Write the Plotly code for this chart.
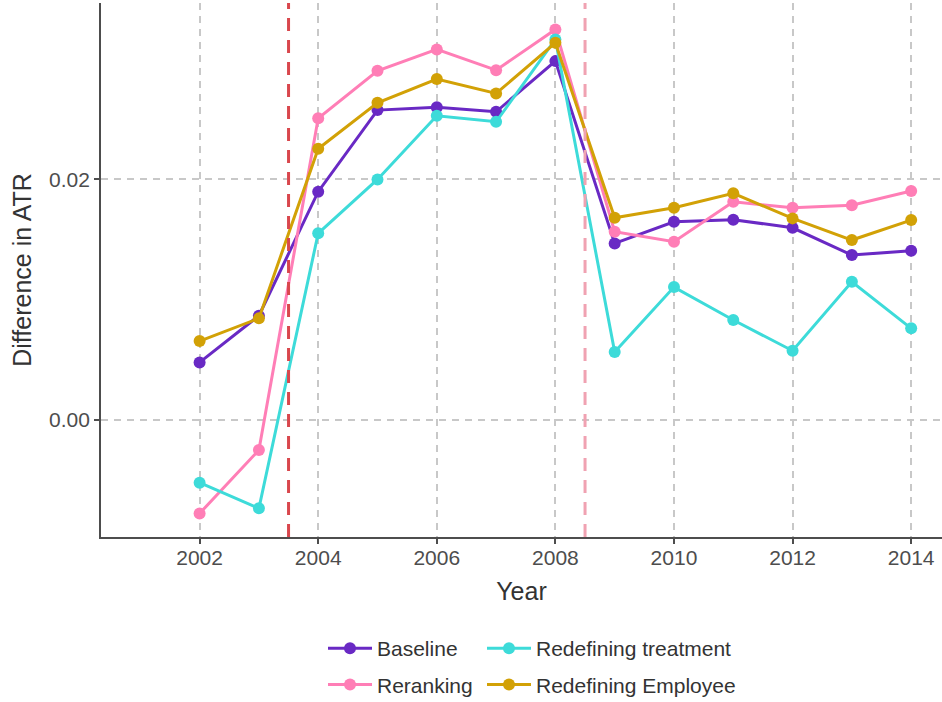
import plotly.graph_objects as go

years = list(range(2002, 2015))

baseline = [0.00479, 0.00867, 0.01898, 0.02576, 0.02600, 0.02562, 0.02983,
            0.01468, 0.01648, 0.01665, 0.01598, 0.01371, 0.01407]
reranking = [-0.00776, -0.00249, 0.02508, 0.02903, 0.03080, 0.02908, 0.03246,
             0.01565, 0.01482, 0.01814, 0.01764, 0.01786, 0.01903]
redef_treatment = [-0.00521, -0.00734, 0.01552, 0.02000, 0.02529, 0.02479, 0.03163,
                   0.00565, 0.01105, 0.00831, 0.00576, 0.01149, 0.00762]
redef_employee = [0.00656, 0.00845, 0.02255, 0.02637, 0.02834, 0.02714, 0.03135,
                  0.01681, 0.01764, 0.01884, 0.01676, 0.01496, 0.01662]

x_ticks = [2002, 2004, 2006, 2008, 2010, 2012, 2014]
y_ticks = [0.00, 0.02]
y_tick_text = ["0.00", "0.02"]
event_years = [2003.5, 2008.5]
event_colors = ["#d9474d", "#f0a2b2"]

series = [
    ("Baseline", baseline, "#6929c4", "legend", "g1"),
    ("Reranking", reranking, "#ff7eb6", "legend", "g2"),
    ("Redefining treatment", redef_treatment, "#3ddbd9", "legend2", "g3"),
    ("Redefining Employee", redef_employee, "#d2a106", "legend2", "g4"),
]

FONT = "Liberation Sans, Arial, sans-serif"

fig = go.Figure()
for name, vals, color, leg, grp in series:
    fig.add_trace(go.Scatter(
        x=years, y=vals, name=name, mode="lines+markers",
        line=dict(color=color, width=3),
        marker=dict(color=color, size=12),
        legend=leg, legendgroup=grp,
    ))

for yr, col in zip(event_years, event_colors):
    fig.add_shape(type="line", xref="x", yref="paper", x0=yr, x1=yr, y0=0, y1=1,
                  line=dict(color=col, width=3, dash="13px,9px"), layer="above")

axis_common = dict(
    showline=True, linecolor="#4d4d4d", linewidth=1.8,
    ticks="outside", ticklen=5, tickcolor="#4d4d4d", tickwidth=1.5,
    showgrid=True, gridcolor="#c8c8c8", gridwidth=1.5, griddash="7px,6px",
    zeroline=False, automargin=False,
    tickfont=dict(family=FONT, size=21, color="#4d4d4d"),
)

fig.update_xaxes(
    range=[2000.337, 2014.52], tickvals=x_ticks, tickmode="array",
    ticklabelstandoff=-4,
    title=dict(text="Year", font=dict(family=FONT, size=25, color="#333333"), standoff=14),
    **axis_common,
)
fig.update_yaxes(
    range=[-0.00972, 0.03466], tickvals=y_ticks, ticktext=y_tick_text, tickmode="array",
    title=dict(text="Difference in ATR", font=dict(family=FONT, size=25, color="#333333"), standoff=10),
    **axis_common,
)

legend_common = dict(
    orientation="v", xref="paper", yref="paper",
    yanchor="top", xanchor="left",
    font=dict(family=FONT, size=21, color="#333333"),
    tracegroupgap=6, itemwidth=44, bgcolor="rgba(0,0,0,0)",
)

# plot area spans x 101..942 and y 3..537 in pixels
PW, PH = 841.0, 534.0

fig.update_layout(
    width=942, height=702,
    margin=dict(l=101, r=0, t=3, b=165, autoexpand=False),
    plot_bgcolor="white", paper_bgcolor="white",
    showlegend=True,
    legend=dict(x=(323 - 101) / PW, y=(537 - 628) / PH, **legend_common),
    legend2=dict(x=(482 - 101) / PW, y=(537 - 628) / PH, **legend_common),
)

fig.write_html("out.html")
